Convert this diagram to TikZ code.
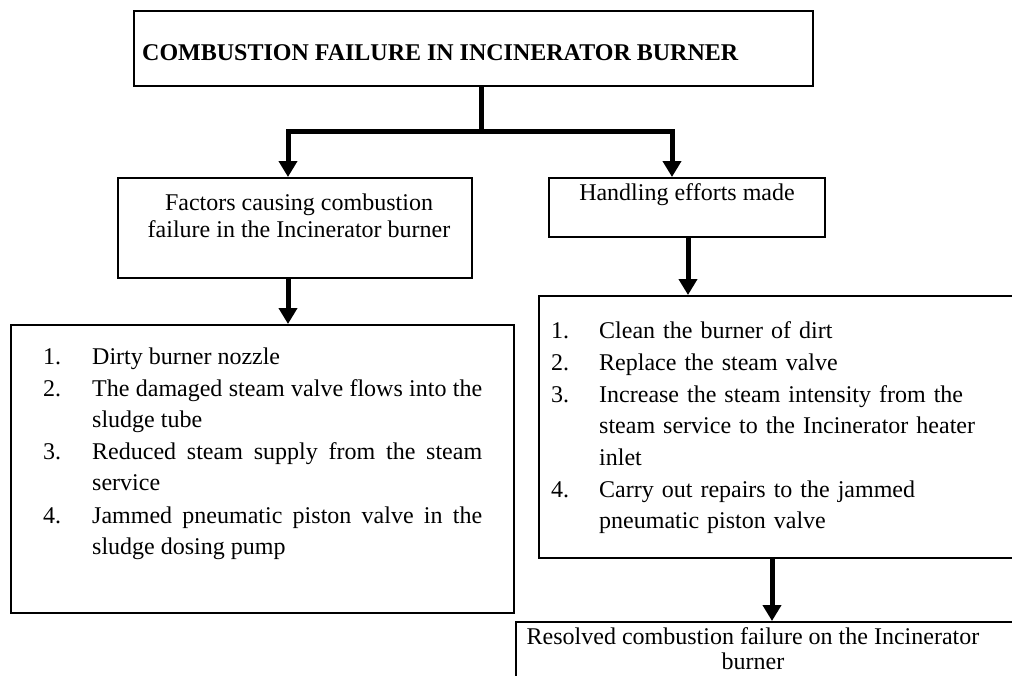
\documentclass[tikz,border=0pt]{standalone}
\usepackage{fontspec}
\setmainfont{Liberation Serif}
\usetikzlibrary{arrows.meta}
\begin{document}
\begin{tikzpicture}[x=1pt,y=-1pt,
  box/.style={draw, line width=2pt, anchor=north west, inner sep=0pt},
  conn/.style={line width=5pt},
  arr/.style={line width=5pt, -{Triangle[length=16pt,width=18pt]}},
  lst/.style={inner sep=0pt, anchor=base west, font=\fontsize{24}{31.8}\selectfont},
  one/.style={inner sep=0pt, anchor=base, font=\fontsize{24}{27}\selectfont}]
\useasboundingbox (0,0) rectangle (1012,675);
\clip (0,0) rectangle (1012,675);

% boxes
\node[box, minimum width=679pt, minimum height=75pt] (top) at (133,10) {};
\node[box, minimum width=354pt, minimum height=100pt] (fac) at (117,177) {};
\node[box, minimum width=276pt, minimum height=59pt] (hand) at (548,177) {};
\node[box, minimum width=503pt, minimum height=288pt] (causes) at (10,324) {};
\node[box, minimum width=520pt, minimum height=262pt] (acts) at (538,295) {};
\node[box, minimum width=520pt, minimum height=100pt] (res) at (515,621) {};

% texts
\node[inner sep=0pt, anchor=base west, font=\fontsize{24}{27}\selectfont\bfseries] (toptxt) at (142,60) {COMBUSTION FAILURE IN INCINERATOR BURNER};
\node[one] (fac1) at (299,210) {Factors causing combustion};
\node[one] (fac2) at (299,237) {failure in the Incinerator burner};
\node[one] (hand1) at (687,200) {Handling efforts made};
\node[one] (res1) at (753,644) {Resolved combustion failure on the Incinerator};
\node[one] (res2) at (753,669) {burner};

% left list
\node[lst] (cn1) at (43,364) {1.};
\node[lst, text width=390pt, align=justify] (ct1) at (92,364) {Dirty burner nozzle};
\node[lst] (cn2) at (43,396) {2.};
\node[lst, text width=390pt, align=justify] (ct2) at (92,396) {The damaged steam valve flows into the\linebreak sludge tube};
\node[lst] (cn3) at (43,459) {3.};
\node[lst, text width=390pt, align=justify] (ct3) at (92,459) {Reduced steam supply from the steam\linebreak service};
\node[lst] (cn4) at (43,523) {4.};
\node[lst, text width=390pt, align=justify] (ct4) at (92,523) {Jammed pneumatic piston valve in the\linebreak sludge dosing pump};

% right list
\node[lst] (an1) at (551,338) {1.};
\node[lst, text width=400pt, align=left] (at1) at (599,338) {Clean the burner of dirt};
\node[lst] (an2) at (551,370) {2.};
\node[lst, text width=400pt, align=left] (at2) at (599,370) {Replace the steam valve};
\node[lst] (an3) at (551,402) {3.};
\node[lst, text width=400pt, align=left] (at3) at (599,402) {Increase the steam intensity from the\\ steam service to the Incinerator heater\\ inlet};
\node[lst] (an4) at (551,497) {4.};
\node[lst, text width=400pt, align=left] (at4) at (599,497) {Carry out repairs to the jammed\\ pneumatic piston valve};

% connectors
\coordinate (split) at (481,131);
\coordinate (bl) at (288,131);
\coordinate (br) at (672,131);
\draw[conn] (top.south -| split) -- (split);
\draw[arr] (split) -- (bl) -- (bl |- fac.north);
\draw[arr] (split) -- (br) -- (br |- hand.north);
\draw[arr] (fac.south -| bl) -- (bl |- causes.north);
\draw[arr] (hand.south -| 688,0) -- (688,0 |- acts.north);
\draw[arr] (acts.south -| 772,0) -- (772,0 |- res.north);
\end{tikzpicture}
\end{document}
